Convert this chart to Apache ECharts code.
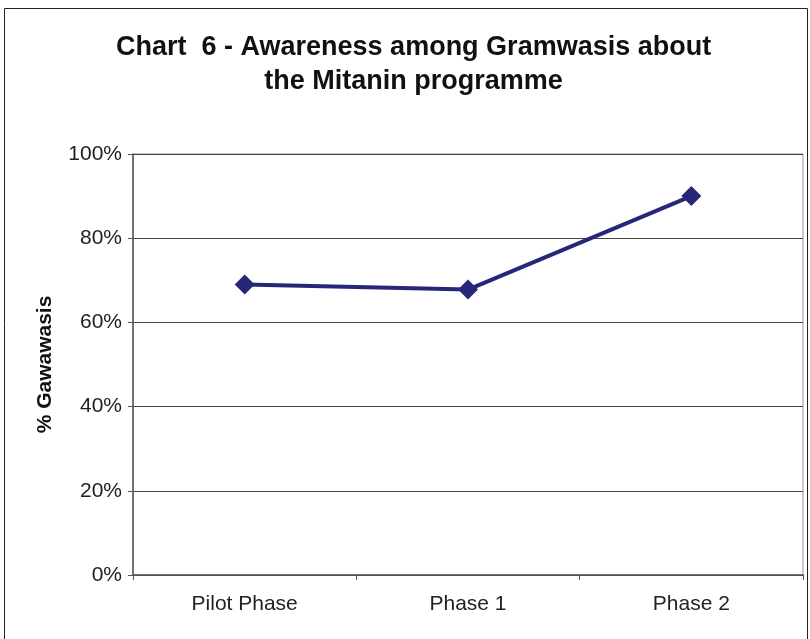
<!DOCTYPE html>
<html>
<head>
<meta charset="utf-8">
<script src="https://cdn.jsdelivr.net/npm/echarts@6/dist/echarts.min.js"></script>
<style>
  html, body { margin: 0; padding: 0; background: #fff; }
  #chart { width: 810px; height: 639px; }
</style>
</head>
<body>
<div id="chart"></div>
<script>
// data
var phases = ['Pilot Phase', 'Phase 1', 'Phase 2'];
var awareness = [69.0, 67.8, 90.0];
var yTicks = [0, 20, 40, 60, 80, 100];

var chart = echarts.init(document.getElementById('chart'));
var option = {
  backgroundColor: '#ffffff',
  animation: false,
  textStyle: { fontFamily: 'Liberation Sans, Arial, sans-serif' },
  graphic: [{
    type: 'rect',
    shape: { x: 4.5, y: 8.5, width: 803, height: 640 },
    style: { fill: 'none', stroke: '#222', lineWidth: 1 },
    silent: true
  }, {
    // title drawn as centred text so both lines centre
    type: 'text',
    left: 116,
    top: 31,
    style: {
      text: 'Chart  6 - Awareness among Gramwasis about\nthe Mitanin programme',
      textAlign: 'center',
      fontSize: 27,
      fontWeight: 'bold',
      lineHeight: 34,
      fill: '#111',
      fontFamily: 'Liberation Sans, Arial, sans-serif'
    },
    silent: true
  }],
  grid: {
    left: 133, right: 7, top: 154, bottom: 64,
    show: true,
    borderColor: '#999',
    borderWidth: 1
  },
  xAxis: {
    type: 'category',
    data: phases,
    boundaryGap: true,
    axisLine: { lineStyle: { color: '#555', width: 1.5 } },
    axisTick: { show: true, length: 5, lineStyle: { color: '#555' } },
    axisLabel: { color: '#222', fontSize: 21, margin: 19 },
    splitLine: { show: false }
  },
  yAxis: {
    type: 'value',
    min: 0, max: 100, interval: 20,
    name: '% Gawawasis',
    nameLocation: 'middle',
    nameGap: 77,
    nameTextStyle: { fontSize: 21, fontWeight: 'bold', color: '#111' },
    axisLine: { show: true, lineStyle: { color: '#555', width: 1.5 } },
    axisTick: { show: true, length: 5, lineStyle: { color: '#555' } },
    axisLabel: {
      color: '#222', fontSize: 21, margin: 11,
      formatter: function (v) { return yTicks.indexOf(v) >= 0 ? v + '%' : ''; }
    },
    splitLine: { show: true, lineStyle: { color: '#444', width: 1 } }
  },
  series: [{
    name: 'Awareness',
    type: 'line',
    data: awareness,
    symbol: 'diamond',
    symbolSize: 20,
    lineStyle: { color: '#27277a', width: 4 },
    itemStyle: { color: '#27277a' }
  }]
};
chart.setOption(option);
</script>
</body>
</html>
